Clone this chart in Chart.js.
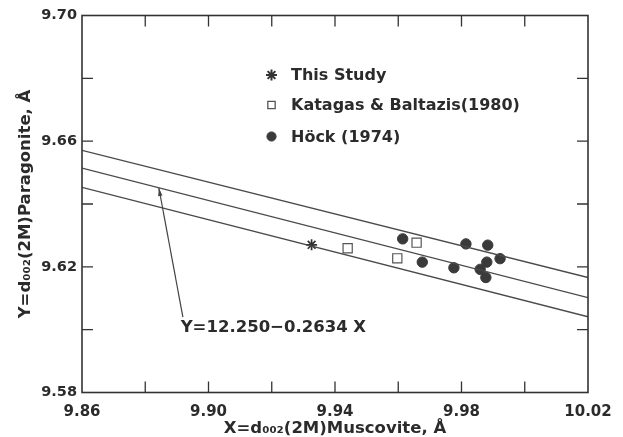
<!DOCTYPE html>
<html>
<head>
<meta charset="utf-8">
<script src="https://cdn.jsdelivr.net/npm/chart.js@4.4.1/dist/chart.umd.min.js"></script>
<style>
  html, body { margin: 0; padding: 0; background: #ffffff; }
  #c { display: block; }
</style>
</head>
<body>
<canvas id="c" width="623" height="437"></canvas>
<script>
// ---- Data ----
const xTickValues = [9.86, 9.88, 9.90, 9.92, 9.94, 9.96, 9.98, 10.00, 10.02];
const xTickLabels = ['9.86', '', '9.90', '', '9.94', '', '9.98', '', '10.02'];
const yTickValues = [9.58, 9.60, 9.62, 9.64, 9.66, 9.68, 9.70];
const yTickLabels = ['9.58', '', '9.62', '', '9.66', '', '9.70'];

// regression line (Y = 12.250 - 0.2634 X) and its envelope, end points
const fitX = [9.86, 10.02];
const fitUpper = [9.6571, 9.6166];
const fitCenter = [9.6514, 9.6102];
const fitLower = [9.6453, 9.6041];

const thisStudyX = [9.9326];
const thisStudyY = [9.6270];

const katagasX = [9.9440, 9.9597, 9.9658];
const katagasY = [9.6259, 9.6227, 9.6277];

const hockX = [9.9614, 9.9676, 9.9776, 9.9814, 9.9859, 9.9877, 9.9880, 9.9883, 9.9922];
const hockY = [9.6289, 9.6215, 9.6197, 9.6273, 9.6192, 9.6166, 9.6215, 9.6269, 9.6226];

const equationText = 'Y=12.250\u22120.2634 X';
const equationAnchor = { x: 9.8912, y: 9.6006 };
const arrowTail = { x: 9.8919, y: 9.6040 };
const arrowTip = { x: 9.8843, y: 9.6451 };

const xTitle = 'X=d\u2080\u2080\u2082(2M)Muscovite, \u00C5';
const yTitle = 'Y=d\u2080\u2080\u2082(2M)Paragonite, \u00C5';

// ---- Styling ----
const INK = '#2b2b2b';
const LINE = '#4a4a4a';
const FONT = '"DejaVu Sans", "Liberation Sans", sans-serif';

function pts(xs, ys) { return xs.map((x, i) => ({ x: x, y: ys[i] })); }

const lineStyle = { type: 'line', borderColor: LINE, borderWidth: 1.3, pointRadius: 0, fill: false, tension: 0, showLine: true };

const datasets = [
  Object.assign({ label: 'upper', data: pts(fitX, fitUpper) }, lineStyle),
  Object.assign({ label: 'center', data: pts(fitX, fitCenter) }, lineStyle),
  Object.assign({ label: 'lower', data: pts(fitX, fitLower) }, lineStyle),
  { label: 'This Study', data: pts(thisStudyX, thisStudyY), pointStyle: 'star', pointRadius: 5.5,
    borderColor: '#333', backgroundColor: '#333', pointBorderWidth: 1.7 },
  { label: 'Katagas & Baltazis(1980)', data: pts(katagasX, katagasY), pointStyle: 'rect', pointRadius: 6.5,
    borderColor: '#555', backgroundColor: 'rgba(255,255,255,0)', pointBorderWidth: 1.2 },
  { label: 'H\u00F6ck (1974)', data: pts(hockX, hockY), pointStyle: 'circle', pointRadius: 5.2,
    borderColor: '#3a3a3a', backgroundColor: '#3a3a3a', pointBorderWidth: 1 }
];

function drawSymbol(ctx, style, x, y, r, fill, stroke, lw) {
  ctx.save();
  ctx.fillStyle = fill; ctx.strokeStyle = stroke; ctx.lineWidth = lw;
  if (Chart.helpers && Chart.helpers.drawPoint) {
    Chart.helpers.drawPoint(ctx, { pointStyle: style, radius: r, rotation: 0, borderWidth: lw }, x, y);
  } else {
    ctx.beginPath();
    if (style === 'circle') { ctx.arc(x, y, r, 0, Math.PI * 2); ctx.fill(); }
    else if (style === 'rect') { const s = r * Math.SQRT1_2; ctx.rect(x - s, y - s, 2 * s, 2 * s); ctx.stroke(); }
    else { for (let k = 0; k < 4; k++) { const a = k * Math.PI / 4; ctx.moveTo(x - r * Math.cos(a), y - r * Math.sin(a)); ctx.lineTo(x + r * Math.cos(a), y + r * Math.sin(a)); } ctx.stroke(); }
  }
  ctx.restore();
}

const framePlugin = {
  id: 'frame',
  afterDatasetsDraw(chart) {
    const ctx = chart.ctx;
    const a = chart.chartArea;
    const xs = chart.scales.x, ys = chart.scales.y;
    ctx.save();
    // frame
    ctx.strokeStyle = '#333';
    ctx.lineWidth = 1.6;
    ctx.strokeRect(a.left, a.top, a.right - a.left, a.bottom - a.top);
    // inward ticks on all four sides
    const TL = 11;
    ctx.lineWidth = 1.3;
    ctx.beginPath();
    xs.ticks.forEach(t => {
      const px = xs.getPixelForValue(t.value);
      if (px <= a.left + 1 || px >= a.right - 1) return;
      ctx.moveTo(px, a.bottom); ctx.lineTo(px, a.bottom - TL);
      ctx.moveTo(px, a.top); ctx.lineTo(px, a.top + TL);
    });
    ys.ticks.forEach(t => {
      const py = ys.getPixelForValue(t.value);
      if (py <= a.top + 1 || py >= a.bottom - 1) return;
      ctx.moveTo(a.left, py); ctx.lineTo(a.left + TL, py);
      ctx.moveTo(a.right, py); ctx.lineTo(a.right - TL, py);
    });
    ctx.stroke();

    // legend (inside plot)
    const legendRows = [
      { ds: chart.data.datasets[3], y: 75, r: 5.5, lw: 2 },
      { ds: chart.data.datasets[4], y: 105, r: 5.2, lw: 1.3 },
      { ds: chart.data.datasets[5], y: 136.5, r: 4.6, lw: 1 }
    ];
    const symX = 271.5, textX = 291;
    ctx.font = 'bold 16px ' + FONT;
    ctx.textAlign = 'left';
    ctx.textBaseline = 'middle';
    legendRows.forEach(row => {
      const ds = row.ds;
      drawSymbol(ctx, ds.pointStyle, symX, row.y, row.r, ds.backgroundColor, ds.borderColor, row.lw);
      ctx.fillStyle = INK;
      ctx.fillText(ds.label, textX, row.y + 1);
    });

    // equation annotation with arrow
    const tx = xs.getPixelForValue(arrowTail.x), ty = ys.getPixelForValue(arrowTail.y);
    const hx = xs.getPixelForValue(arrowTip.x), hy = ys.getPixelForValue(arrowTip.y);
    ctx.strokeStyle = '#444';
    ctx.lineWidth = 1.2;
    ctx.beginPath(); ctx.moveTo(tx, ty); ctx.lineTo(hx, hy); ctx.stroke();
    const ang = Math.atan2(hy - ty, hx - tx);
    const L = 8, W = 2.2;
    ctx.fillStyle = '#444';
    ctx.beginPath();
    ctx.moveTo(hx, hy);
    ctx.lineTo(hx - L * Math.cos(ang) + W * Math.sin(ang), hy - L * Math.sin(ang) - W * Math.cos(ang));
    ctx.lineTo(hx - L * Math.cos(ang) - W * Math.sin(ang), hy - L * Math.sin(ang) + W * Math.cos(ang));
    ctx.closePath(); ctx.fill();

    ctx.font = 'bold 16.5px ' + FONT;
    ctx.fillStyle = INK;
    ctx.textAlign = 'left';
    ctx.textBaseline = 'middle';
    ctx.fillText(equationText, xs.getPixelForValue(equationAnchor.x), ys.getPixelForValue(equationAnchor.y));
    ctx.restore();
  }
};

new Chart(document.getElementById('c'), {
  type: 'scatter',
  data: { datasets: datasets },
  options: {
    responsive: false,
    animation: false,
    devicePixelRatio: 1,
    layout: { padding: { left: 0, right: 35, top: 15.5, bottom: 0 } },
    plugins: { legend: { display: false }, tooltip: { enabled: false } },
    scales: {
      x: {
        type: 'linear', min: 9.86, max: 10.02,
        afterBuildTicks: s => { s.ticks = xTickValues.map(v => ({ value: v })); },
        afterFit: s => { s.height = 44.5; },
        grid: { display: true, drawOnChartArea: false, drawTicks: false },
        border: { display: false },
        ticks: { autoSkip: false, maxRotation: 0, padding: 11, color: INK,
                 font: { family: FONT, size: 15, weight: 'bold' },
                 callback: (v, i) => xTickLabels[i] },
        title: { display: true, text: xTitle, color: INK, padding: { top: 0, bottom: -2 },
                 font: { family: FONT, size: 16.5, weight: 'bold' } }
      },
      y: {
        type: 'linear', min: 9.58, max: 9.70,
        afterBuildTicks: s => { s.ticks = yTickValues.map(v => ({ value: v })); },
        afterFit: s => { s.width = 82; },
        grid: { display: true, drawOnChartArea: false, drawTicks: false },
        border: { display: false },
        ticks: { autoSkip: false, padding: 5, color: INK,
                 font: { family: FONT, size: 14.5, weight: 'bold' },
                 callback: (v, i) => yTickLabels[i] },
        title: { display: true, text: yTitle, color: INK, padding: { top: 16, bottom: 0 },
                 font: { family: FONT, size: 16.5, weight: 'bold' } }
      }
    }
  },
  plugins: [framePlugin]
});
</script>
</body>
</html>
